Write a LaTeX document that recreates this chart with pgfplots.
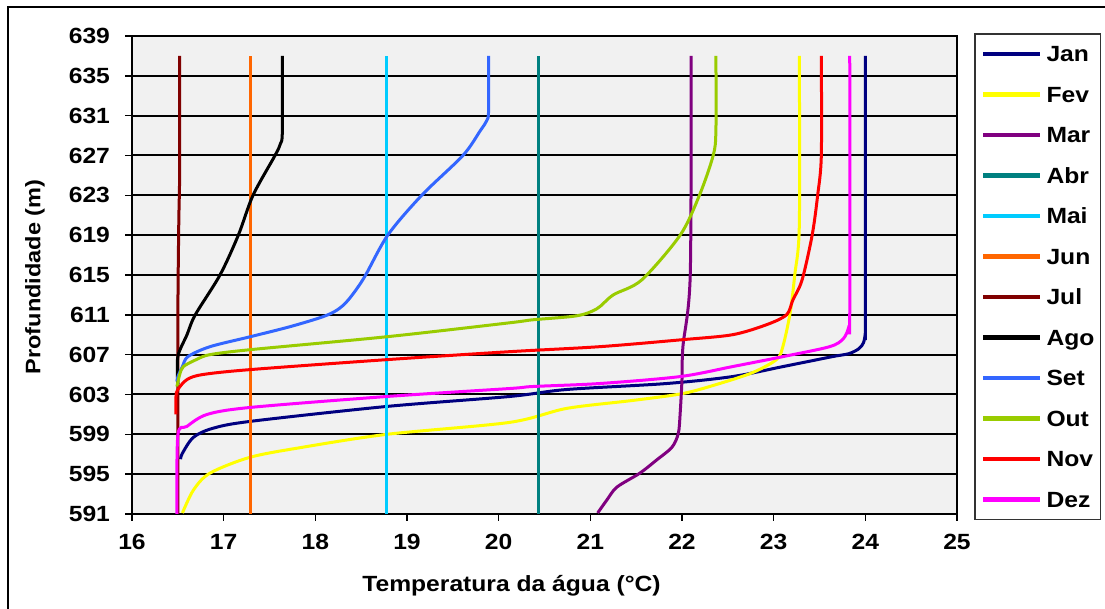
\documentclass[border=0pt]{standalone}
\usepackage{fontspec}
\setmainfont{Liberation Sans}[FakeStretch=1.12]
\usepackage{pgfplots}
\pgfplotsset{compat=1.18}
\definecolor{bggray}{RGB}{241,241,241}
\definecolor{cJan}{RGB}{0,0,128}
\definecolor{cFev}{RGB}{255,255,0}
\definecolor{cMar}{RGB}{128,0,128}
\definecolor{cAbr}{RGB}{0,128,128}
\definecolor{cMai}{RGB}{0,204,255}
\definecolor{cJun}{RGB}{255,102,0}
\definecolor{cJul}{RGB}{128,0,0}
\definecolor{cAgo}{RGB}{0,0,0}
\definecolor{cSet}{RGB}{51,102,255}
\definecolor{cOut}{RGB}{153,204,0}
\definecolor{cNov}{RGB}{255,0,0}
\definecolor{cDez}{RGB}{255,0,255}
\begin{document}
\begin{tikzpicture}[x=1pt,y=1pt]
\useasboundingbox (0,0) rectangle (552.5,304.5);
\draw[line width=1pt] (4,0) -- (4,301) -- (552.5,301);
\begin{axis}[
  at={(66pt,47.5pt)}, anchor=south west,
  scale only axis, width=412.5pt, height=239pt,
  xmin=16, xmax=25, ymin=591, ymax=639,
  xtick={16,17,...,25}, ytick={591,595,...,639},
  axis background/.style={fill=bggray},
  ymajorgrids, grid style={black, line width=1pt},
  axis line style={black, line width=1pt},
  tick align=outside, tick pos=left, major tick length=3.5pt,
  tick style={black, line width=0.8pt},
  /pgf/number format/assume math mode=true,
  /pgf/number format/1000 sep={},
  ticklabel style={font=\bfseries\fontsize{11}{13}\selectfont},
  yticklabel style={xshift=-4pt},
  xticklabel style={yshift=-3pt},
  xlabel={Temperatura da água (°C)},
  ylabel={Profundidade (m)},
  xlabel style={font=\bfseries\fontsize{11}{13}\selectfont, at={(axis description cs:0.46,-0.163)}, anchor=base},
  ylabel style={font=\bfseries\fontsize{10.5}{12}\selectfont, at={(axis description cs:-0.1176,0.496)}, anchor=center},
  legend style={at={(axis description cs:1.021,1.006)}, anchor=north west,
    draw=black!80, line width=0.8pt, fill=white,
    font=\bfseries\fontsize{11}{13}\selectfont,
    inner xsep=3pt, inner ysep=6pt, row sep=12.25pt, column sep=2pt,
    nodes={inner sep=0pt, text height=8pt, text depth=0pt}},
  legend cell align=left,
  legend image code/.code={\draw[#1, line width=2.2pt] (0pt,0pt) -- (28.5pt,0pt);},
  every axis plot/.append style={line width=1.5pt, smooth, tension=0.5},
]
\addplot[cJan] coordinates {(16.53,596.5) (16.55,597.1) (16.67,598.7) (16.88,599.6) (17.29,600.3) (18.78,601.8) (20.12,602.8) (20.74,603.5) (21.83,604.1) (22.55,604.8) (23.10,605.8) (23.64,606.8) (23.82,607.1) (23.93,607.6) (23.98,608.2) (24.00,609.2) (24.00,610.5) (24.00,637)};
\addlegendentry{Jan}
\addplot[cFev] coordinates {(16.55,591.1) (16.67,593.4) (16.85,595.1) (17.29,596.7) (17.86,597.7) (18.78,599.0) (20.12,600.2) (20.74,601.6) (21.46,602.4) (22.01,603.1) (22.41,604.1) (22.77,605.2) (23.03,606.5) (23.10,607.8) (23.18,611.2) (23.23,615) (23.28,620) (23.28,637)};
\addlegendentry{Fev}
\addplot[cMar] coordinates {(21.08,591.1) (21.18,592.4) (21.29,593.7) (21.54,595.1) (21.72,596.4) (21.89,597.7) (21.96,599.1) (21.98,601.1) (22.00,604.5) (22.01,607.8) (22.09,615) (22.10,637)};
\addlegendentry{Mar}
\addplot[cAbr] coordinates {(20.43,591) (20.43,637)};
\addlegendentry{Abr}
\addplot[cMai] coordinates {(18.78,591) (18.78,637)};
\addlegendentry{Mai}
\addplot[cJun] coordinates {(17.29,591) (17.29,637)};
\addlegendentry{Jun}
\addplot[cJul] coordinates {(16.50,591) (16.50,610) (16.51,620) (16.52,625.5) (16.52,637)};
\addlegendentry{Jul}
\addplot[cAgo] coordinates {(16.50,604.0) (16.50,606.8) (16.60,609) (16.69,611) (16.96,615) (17.16,619) (17.32,623) (17.56,627) (17.62,628.2) (17.64,629.4) (17.64,637)};
\addlegendentry{Ago}
\addplot[cSet] coordinates {(16.49,604.3) (16.50,604.8) (16.55,605.8) (16.61,606.8) (16.85,607.8) (17.29,608.8) (17.72,609.8) (18.08,610.8) (18.24,611.5) (18.36,612.5) (18.53,614.7) (18.79,619) (19.16,623) (19.61,627) (19.80,629.5) (19.87,630.5) (19.89,631.5) (19.89,637)};
\addlegendentry{Set}
\addplot[cOut] coordinates {(16.49,603.8) (16.52,605.0) (16.56,605.8) (16.70,606.5) (16.85,607.0) (17.29,607.5) (18.78,608.8) (20.12,610.2) (20.37,610.5) (20.85,610.9) (21.07,611.6) (21.25,613.0) (21.56,614.5) (21.98,619) (22.19,623) (22.34,627) (22.37,629.5) (22.37,637)};
\addlegendentry{Out}
\addplot[cNov] coordinates {(16.48,601.0) (16.48,602.8) (16.50,603.5) (16.60,604.5) (16.77,605.0) (17.29,605.5) (18.78,606.5) (20.12,607.3) (21.10,607.8) (22.00,608.5) (22.55,609.0) (22.92,610.0) (23.14,611.0) (23.21,612.5) (23.31,614.5) (23.42,619) (23.48,623) (23.52,627) (23.52,637)};
\addlegendentry{Nov}
\addplot[cDez] coordinates {(16.49,591) (16.50,598.9) (16.60,599.8) (16.82,601.0) (17.29,601.7) (18.78,602.8) (20.12,603.6) (20.37,603.8) (21.10,604.1) (21.98,604.8) (22.55,605.8) (23.10,606.8) (23.61,607.8) (23.76,608.6) (23.82,609.8) (23.83,611.0) (23.83,637)};
\addlegendentry{Dez}
\end{axis}
\end{tikzpicture}
\end{document}
